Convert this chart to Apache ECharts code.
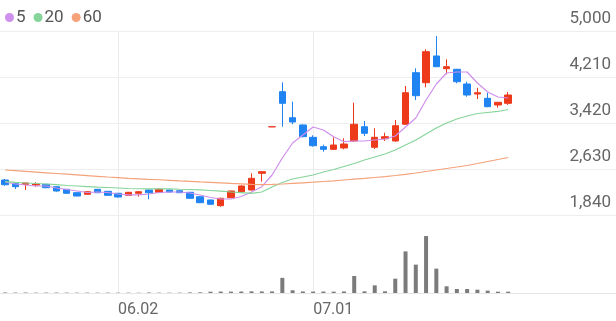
<!DOCTYPE html>
<html><head><meta charset="utf-8">
<script src="https://cdn.jsdelivr.net/npm/echarts@6/dist/echarts.min.js"></script>
<style>html,body{margin:0;padding:0;background:#fff}#c{width:616px;height:321px}</style>
</head><body><div id="c"></div>
<script>
const dates = ['05.16','05.19','05.20','05.21','05.22','05.23','05.26','05.27','05.28','05.29',
  '05.30','06.02','06.04','06.05','06.09','06.10','06.11','06.12','06.13','06.16',
  '06.17','06.18','06.19','06.20','06.23','06.24','06.25','06.26','06.27','06.30',
  '07.01','07.02','07.03','07.04','07.07','07.08','07.09','07.10','07.11','07.14',
  '07.15','07.16','07.17','07.18','07.21','07.22','07.23','07.24','07.25','07.28',
  '07.29','07.30','07.31','08.01','08.04','08.05','08.06','08.07','08.08','08.11'];
const opens  = [2441,2378,2367,2355,2367,2326,2281,2223,2196,2281,2247,2213,2178,2213,2269,2230,2269,2257,2230,2154,
  2098,2000,2137,2240,2269,2556,3355,3958,3511,3386,3174,3013,2968,2991,3111,3356,3003,3150,3111,3398,
  4284,4112,4571,4353,4342,4090,3918,3844,3729,3758];
const closes = [2360,2326,2390,2372,2309,2252,2213,2166,2240,2223,2178,2149,2230,2240,2223,2281,2235,2223,2127,2051,
  2024,2127,2252,2338,2470,2584,3355,3758,3437,3185,3030,2968,3042,3059,3398,3243,3174,3185,3374,3940,
  3889,4645,4387,4387,4129,3901,3940,3700,3776,3901];
const lows   = [2343,2287,2269,2326,2300,2240,2205,2160,2190,2215,2172,2143,2172,2155,2110,2225,2230,2218,2120,2045,
  2018,1983,2130,2225,2260,2412,3355,3356,3398,3175,3013,2927,2960,2968,3100,3197,2973,3111,3100,3390,
  3815,4033,4380,4256,4102,3872,3832,3690,3683,3729];
const highs  = [2458,2385,2395,2402,2375,2330,2285,2228,2245,2285,2252,2218,2235,2250,2275,2299,2272,2262,2235,2160,
  2103,2135,2260,2350,2556,2590,3355,4119,3786,3395,3209,3047,3174,3157,3769,3454,3329,3253,3472,4055,
  4359,4686,4914,4514,4350,4129,4026,3940,3780,3952];
const volumes = [22000,18000,20000,15000,17000,19000,16000,14000,15000,13000,16000,14000,15000,12000,21000,14000,13000,15000,25000,30000,
  55000,60000,58000,62000,70000,65000,68000,640000,115000,65000,60000,62000,58000,66000,720000,70000,325000,72000,605000,1760000,
  1200000,2410000,1030000,283000,170000,170000,140000,100000,55000,55000];
const ma5  = [2407,2372,2355,2338,2338,2304,2278,2252,2226,2235,2226,2201,2184,2184,2201,2226,2235,2235,2218,2184,
  2141,2115,2115,2158,2235,2326,2527,2819,3077,3214,3351,3300,3185,3099,3111,3111,3128,3145,3197,3351,
  3506,3815,4090,4279,4296,4296,4107,3952,3867,3849];
const ma20 = [2412,2400,2390,2381,2372,2360,2347,2338,2329,2320,2312,2304,2295,2291,2287,2287,2287,2282,2278,2270,
  2261,2250,2235,2225,2213,2235,2321,2398,2458,2493,2527,2578,2621,2673,2724,2785,2836,2888,2956,3042,
  3128,3231,3334,3420,3489,3540,3583,3600,3618,3652];
const ma60 = [2613,2601,2589,2577,2565,2553,2541,2529,2517,2505,2493,2482,2470,2462,2453,2445,2436,2427,2419,2410,
  2402,2393,2384,2376,2367,2362,2365,2372,2383,2393,2403,2415,2427,2441,2455,2469,2484,2499,2518,2539,
  2561,2587,2613,2639,2664,2690,2724,2759,2793,2828];
const yTicks = [1840,2630,3420,4210,5000];
const xTickLabels = ['06.02','07.01'];

const UP = '#ec3a1b', DOWN = '#1f84f2';
const FONT = 'Roboto';
const candleData = opens.map((o,i)=>[o, closes[i], lows[i], highs[i]]);
const vLines = {
  silent: true, symbol: ['none','none'], z: 0,
  label: {show:false},
  lineStyle: {color:'#ececec', width:1, type:'solid'},
  emphasis: {disabled:true},
  data: xTickLabels.map(d => ({xAxis: d}))
};
const fmt = v => String(v).replace(/\B(?=(\d{3})+(?!\d))/g, ',');

const chart = echarts.init(document.getElementById('c'));
chart.setOption({
  animation: false,
  backgroundColor: '#fff',
  legend: {
    data: ['5','20','60'], left: 0, top: 4, icon: 'circle',
    itemWidth: 9, itemHeight: 9, itemGap: 8,
    textStyle: {fontSize: 17, color: '#555', fontFamily: FONT, padding:[0,0,0,-3]}
  },
  grid: [
    {left: 0, right: 0, top: 31, height: 184},
    {left: 0, right: 0, top: 215, height: 78}
  ],
  xAxis: [
    {type:'category', gridIndex:0, data: dates, boundaryGap: true,
     axisLine:{show:false}, axisTick:{show:false}, axisLabel:{show:false}, splitLine:{show:false}},
    {type:'category', gridIndex:1, data: dates, boundaryGap: true,
     axisLine:{show:true, lineStyle:{color:'#e6e6e6', width:1}}, axisTick:{show:false}, splitLine:{show:false},
     axisLabel:{interval: (i, v) => xTickLabels.indexOf(v) >= 0, align:'left', color:'#666', fontSize:16, fontFamily: FONT, margin: 9}}
  ],
  yAxis: [
    {type:'value', gridIndex:0, position:'right', min: 1840, max: 5000, scale: true,
     axisLine:{show:false}, axisTick:{show:false, customValues: yTicks},
     axisLabel:{customValues: yTicks, inside:true, color:'#666', fontSize:17, fontFamily: FONT,
       verticalAlign:'bottom', padding:[0,0,4,0], margin:5, formatter: fmt},
     splitLine:{show:true, lineStyle:{color:'#eeeeee', width:1}}},
    {type:'value', gridIndex:1, min:0, max:3300000, show:false, splitLine:{show:false}}
  ],
  series: [
    {type:'candlestick', name:'price', xAxisIndex:0, yAxisIndex:0, data: candleData, barWidth: 7,
     itemStyle:{color: UP, color0: DOWN, borderColor: UP, borderColor0: DOWN, borderWidth: 1},
     markLine: vLines},
    {type:'line', name:'5', xAxisIndex:0, yAxisIndex:0, data: ma5, symbol:'none', color:'#cf8fec',
     lineStyle:{width:1.2, color:'#cf8fec'}},
    {type:'line', name:'20', xAxisIndex:0, yAxisIndex:0, data: ma20, symbol:'none', color:'#86d49a',
     lineStyle:{width:1.2, color:'#86d49a'}},
    {type:'line', name:'60', xAxisIndex:0, yAxisIndex:0, data: ma60, symbol:'none', color:'#f5a27a',
     lineStyle:{width:1.2, color:'#f5a27a'}},
    {type:'bar', name:'vol', xAxisIndex:1, yAxisIndex:1, data: volumes, barWidth: 4,
     itemStyle:{color:'#7b7b7b'}, markLine: vLines}
  ]
});
</script></body></html>
